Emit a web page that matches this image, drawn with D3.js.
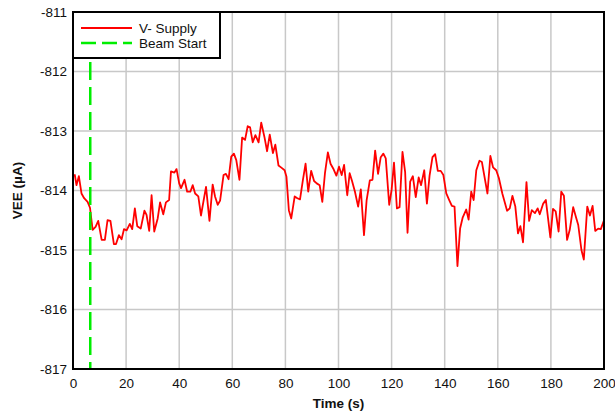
<!DOCTYPE html>
<html>
<head>
<meta charset="utf-8">
<script src="https://cdn.jsdelivr.net/npm/d3@7"></script>
<style>
  body { margin: 0; background: #fff; }
  text { font-family: "Liberation Sans", Arial, sans-serif; fill: #111; }
</style>
</head>
<body>
<div id="chart"></div>
<script>
// data
var time = [0, 0.7, 1.3, 2.2, 3.2, 4.2, 5.5, 6.4, 7.4, 8.5, 9.5, 10.8, 12, 13, 14.1, 15.4, 16.2, 17.3, 18.3, 19.2,
  20.2, 21.4, 22.3, 23.3, 24.2, 25.5, 26.9, 27.7, 28.7, 29.6, 30.6, 31.9, 32.8, 34, 35, 36.2, 36.9, 38.2, 39, 40,
  40.7, 42, 43, 44.2, 45.1, 46, 47.2, 48.2, 50.1, 51.4, 52.6, 53.5, 54.5, 55.4, 56.7, 57.6, 58.6, 59.6,
  60.6, 61.5, 62.7, 63.7, 64.8, 65.8, 66.7, 67.7, 68.7, 69.9, 70.9, 72.1, 73.1, 74.1, 75.3, 76.2, 77.4, 78.6, 79.7,
  80.4, 81.3, 82.2, 83.5, 84.5, 85.5, 86.6, 87.6, 88.6, 89.7, 90.8, 91.8, 92.9, 93.9, 94.9, 96, 97, 98, 99.2,
  100.2, 101.2, 102.1, 103.3, 104.2, 105.1, 106.2, 107.4, 108.4, 109.6, 110.6, 111.8, 112.8, 113.8, 114.9, 115.9, 116.9, 117.8, 119.1,
  120, 120.9, 122, 123, 124.1, 125.1, 126, 127, 128, 129.1, 130.2, 131.1, 132.3, 133.3, 134.3, 135.4, 136.4, 137.4, 138.5, 139.5,
  140.6, 141.7, 142.7, 143.7, 144.8, 145.8, 146.8, 148.1, 149, 150, 150.9, 151.9, 153.1, 154, 156.1, 157.2, 158.2, 159.4,
  160.4, 161.7, 163.5, 164.5, 165.5, 166.6, 167.6, 168.5, 169.5, 170.8, 171.8, 172.8, 174, 175, 175.8, 177.1, 178.1, 179.8,
  180.8, 181.8, 182.9, 183.9, 184.9, 186.1, 187.1, 188.4, 189.4, 190.3, 191.5, 192.4, 193.7, 194.7, 195.7, 196.7, 197.8, 198.8, 200];
var vee = [-813.75, -813.74, -813.91, -813.76, -814.05, -814.13, -814.19, -814.29, -814.66, -814.61, -814.51, -814.83, -814.83, -814.5, -814.51, -814.9, -814.9, -814.75, -814.82, -814.65,
  -814.67, -814.56, -814.65, -814.3, -814.6, -814.64, -814.34, -814.41, -814.68, -814.08, -814.69, -814.47, -814.2, -814.4, -814.2, -814.16, -813.68, -813.7, -813.64, -813.88,
  -813.96, -813.82, -814.02, -814.02, -813.91, -814.05, -814.1, -814.42, -813.94, -814.51, -813.9, -814.1, -814.24, -814.17, -813.74, -813.72, -813.81, -813.43,
  -813.38, -813.49, -813.82, -813.11, -813.15, -812.92, -812.94, -813.19, -813.07, -813.19, -812.86, -813.1, -813.34, -813.06, -813.37, -813.23, -813.58, -813.62, -813.66,
  -813.77, -814.33, -814.47, -814.1, -814.13, -814.15, -813.82, -813.55, -814.02, -813.67, -813.84, -813.88, -813.91, -814.19, -813.71, -813.36, -813.55, -813.63, -813.75,
  -813.6, -813.74, -813.57, -814.08, -813.71, -813.84, -814.02, -814.27, -813.98, -814.75, -814.16, -813.83, -813.82, -813.33, -813.72, -813.44, -813.38, -813.46, -814.24,
  -813.99, -813.53, -814.3, -814.28, -813.35, -813.69, -814.71, -813.85, -813.76, -814.11, -813.78, -813.91, -813.66, -814.22, -813.75, -813.44, -813.39, -813.67, -813.67, -813.74,
  -814.05, -814.16, -814.26, -814.27, -815.27, -814.64, -814.45, -814.32, -814.49, -814.02, -814.16, -813.66, -813.5, -813.52, -814.05, -813.42, -813.61, -813.66,
  -813.79, -814.05, -814.34, -814.3, -814.09, -814.27, -814.72, -814.6, -814.87, -813.86, -814.51, -814.33, -814.38, -814.3, -814.4, -814.22, -814.16, -814.79,
  -814.31, -814.35, -814.69, -814.02, -814.09, -814.83, -814.66, -814.28, -814.44, -814.58, -815.0, -815.16, -814.27, -814.42, -814.26, -814.68, -814.64, -814.65, -814.5];
var beamStart = 6.5;
var xTicks = [0, 20, 40, 60, 80, 100, 120, 140, 160, 180, 200];
var yTicks = [-811, -812, -813, -814, -815, -816, -817];
var legendItems = ["V- Supply", "Beam Start"];

var W = 615, H = 413;
var margin = {left: 73, right: 11, top: 12, bottom: 44};

var svg = d3.select("#chart").append("svg")
  .attr("width", W)
  .attr("height", H);

var x = d3.scaleLinear().domain([0, 200]).range([margin.left, W - margin.right]);
var y = d3.scaleLinear().domain([-817, -811]).range([H - margin.bottom, margin.top]);

// grid
svg.append("g").selectAll("line.vx")
  .data(xTicks.slice(1, -1))
  .enter().append("line")
  .attr("x1", function(d) { return x(d); })
  .attr("x2", function(d) { return x(d); })
  .attr("y1", y(-811))
  .attr("y2", y(-817))
  .attr("stroke", "#c8c8c8")
  .attr("stroke-width", 1.5);

svg.append("g").selectAll("line.hy")
  .data(yTicks.slice(1, -1))
  .enter().append("line")
  .attr("x1", x(0))
  .attr("x2", x(200))
  .attr("y1", function(d) { return y(d); })
  .attr("y2", function(d) { return y(d); })
  .attr("stroke", "#c8c8c8")
  .attr("stroke-width", 1.5);

// axes (labels only, the frame is drawn separately)
var xAxis = svg.append("g")
  .attr("transform", "translate(0," + y(-817) + ")")
  .call(d3.axisBottom(x).tickValues(xTicks).tickSize(0).tickPadding(9));
xAxis.select(".domain").remove();
xAxis.selectAll("text").attr("font-size", 13.5).attr("fill", "#111")
  .style("font-family", "Liberation Sans, Arial, sans-serif");

var yAxis = svg.append("g")
  .attr("transform", "translate(" + x(0) + ",0)")
  .call(d3.axisLeft(y).tickValues(yTicks).tickSize(0).tickPadding(6)
    .tickFormat(function(d) { return String(d); }));
yAxis.select(".domain").remove();
yAxis.selectAll("text").attr("font-size", 13.5).attr("fill", "#111")
  .style("font-family", "Liberation Sans, Arial, sans-serif");

// red series
var line = d3.line()
  .x(function(d, i) { return x(time[i]); })
  .y(function(d) { return y(d); });

svg.append("path")
  .datum(vee)
  .attr("d", line)
  .attr("fill", "none")
  .attr("stroke", "#ff0000")
  .attr("stroke-width", 1.8)
  .attr("stroke-linejoin", "round");

// beam start marker
svg.append("line")
  .attr("x1", x(beamStart))
  .attr("x2", x(beamStart))
  .attr("y1", y(-811))
  .attr("y2", y(-817))
  .attr("stroke", "#00ee00")
  .attr("stroke-width", 2.5)
  .attr("stroke-dasharray", "18,7");

// frame
svg.append("rect")
  .attr("x", x(0))
  .attr("y", y(-811))
  .attr("width", x(200) - x(0))
  .attr("height", y(-817) - y(-811))
  .attr("fill", "none")
  .attr("stroke", "#000")
  .attr("stroke-width", 2);

// legend
var lg = svg.append("g").attr("transform", "translate(" + x(0) + "," + y(-811) + ")");
lg.append("rect")
  .attr("width", 147)
  .attr("height", 46)
  .attr("fill", "#fff")
  .attr("stroke", "#000")
  .attr("stroke-width", 2);
lg.selectAll("line.key")
  .data(legendItems)
  .enter().append("line")
  .attr("x1", 8)
  .attr("x2", 59)
  .attr("y1", function(d, i) { return 16 + i * 15; })
  .attr("y2", function(d, i) { return 16 + i * 15; })
  .attr("stroke", function(d, i) { return i === 0 ? "#ff0000" : "#00ee00"; })
  .attr("stroke-width", function(d, i) { return i === 0 ? 1.8 : 2.5; })
  .attr("stroke-dasharray", function(d, i) { return i === 0 ? null : "15,6"; });
lg.selectAll("text.key")
  .data(legendItems)
  .enter().append("text")
  .attr("x", 66)
  .attr("y", function(d, i) { return 20.5 + i * 15; })
  .attr("font-size", 13.5)
  .text(function(d) { return d; });

// axis titles
svg.append("text")
  .attr("x", (x(0) + x(200)) / 2)
  .attr("y", 408)
  .attr("text-anchor", "middle")
  .attr("font-size", 13.5)
  .attr("font-weight", "bold")
  .text("Time (s)");

svg.append("text")
  .attr("transform", "translate(22," + (y(-814)) + ") rotate(-90)")
  .attr("text-anchor", "middle")
  .attr("font-size", 13.5)
  .attr("font-weight", "bold")
  .text("VEE (µA)");
</script>
</body>
</html>
